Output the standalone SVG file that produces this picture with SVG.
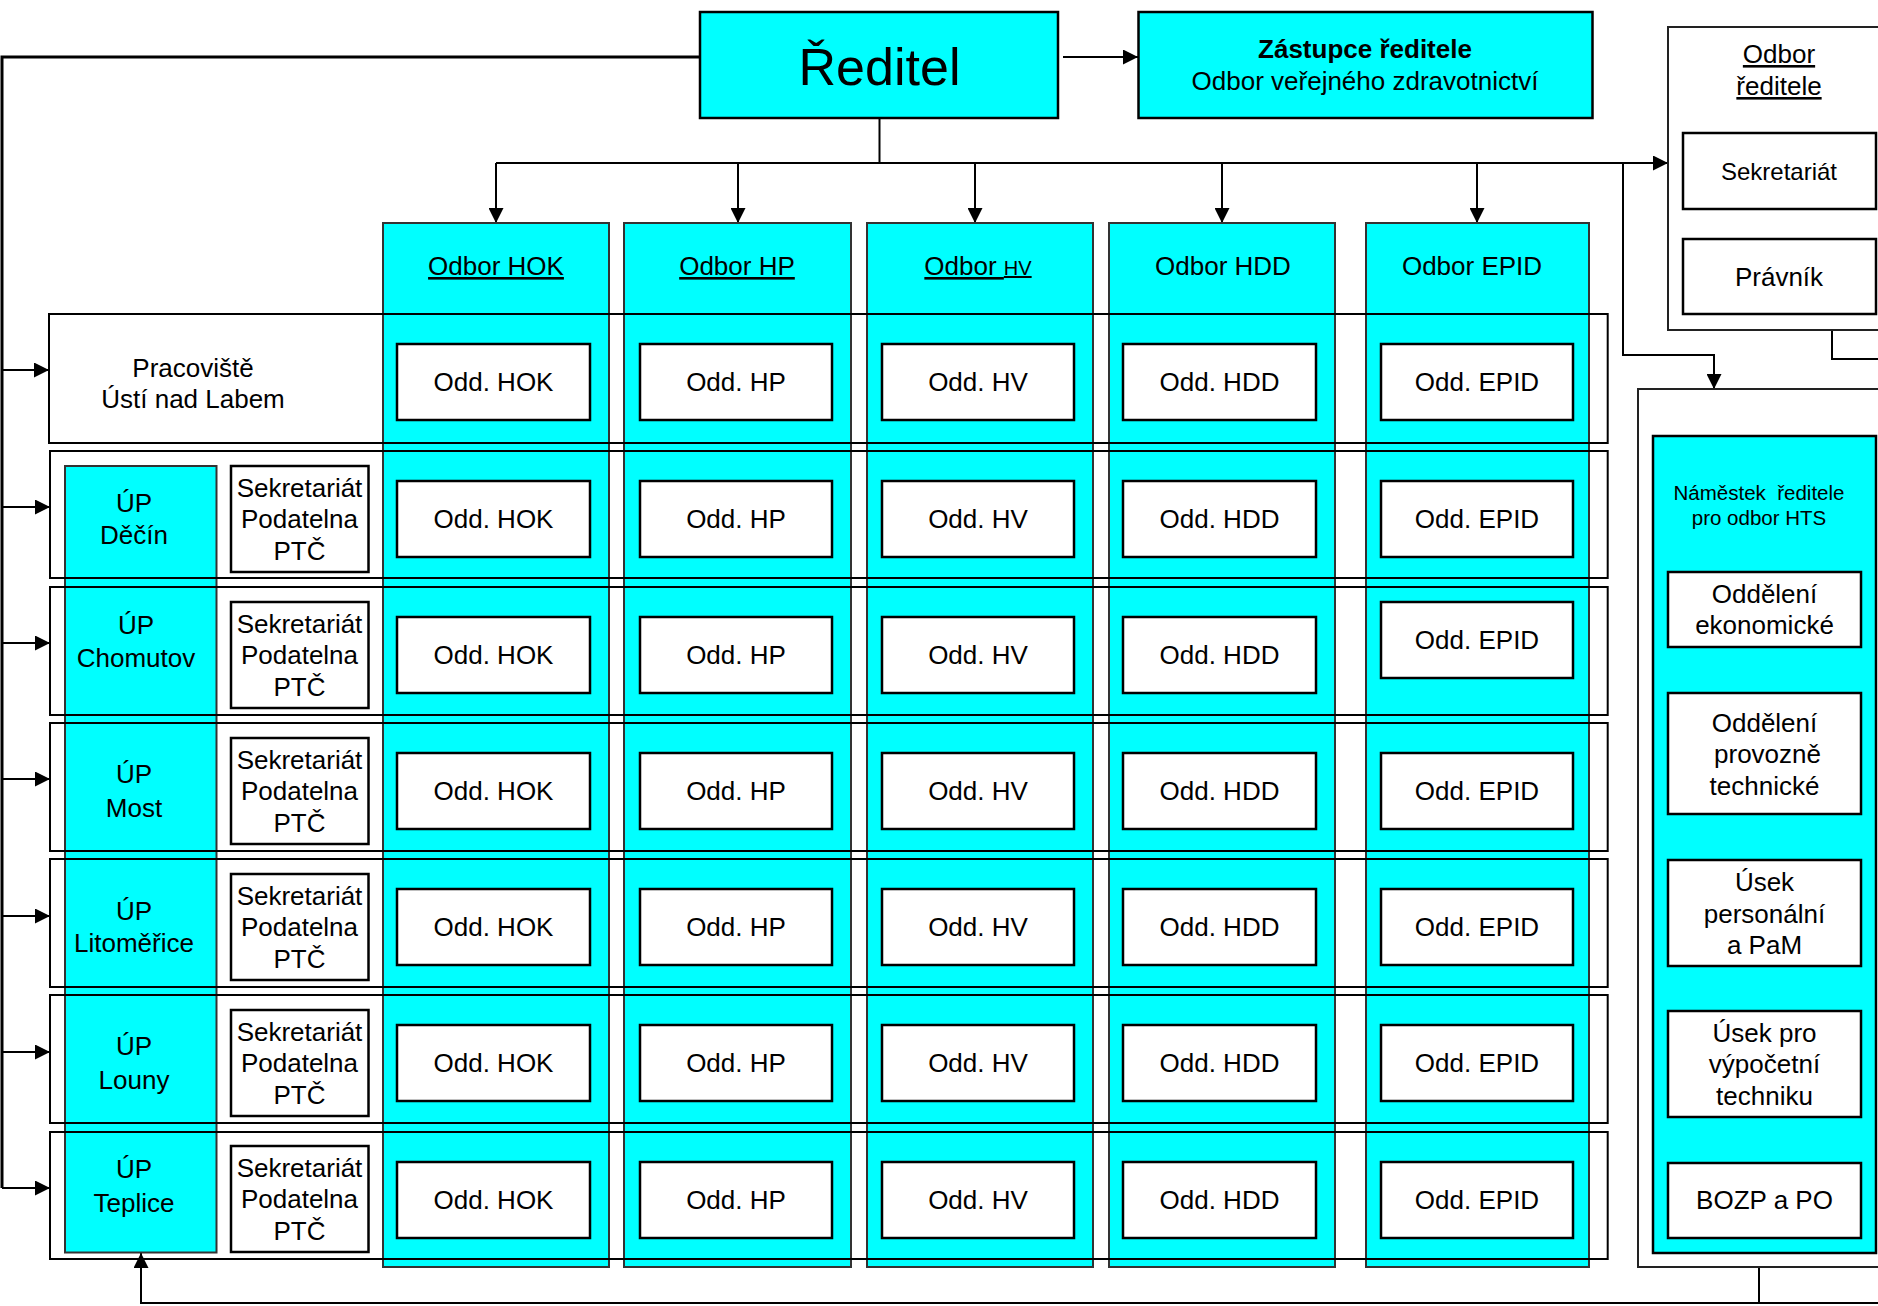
<svg xmlns="http://www.w3.org/2000/svg" width="1878" height="1306" viewBox="0 0 1878 1306">
<style>
text{font-family:"Liberation Sans",Arial,sans-serif;fill:#000;text-anchor:middle}
.t26{font-size:26px}
.cyan{fill:#00FFFF;stroke:#000;stroke-width:2.5}
.col{fill:#00FFFF;stroke:#333;stroke-width:2}
.wbox{fill:#fff;stroke:#000;stroke-width:2.5}
.row{fill:none;stroke:#000;stroke-width:2}
.frame{fill:#fff;stroke:#222;stroke-width:2}
.ln{fill:none;stroke:#000;stroke-width:2}
.lnb{fill:none;stroke:#000;stroke-width:3}
.ul{text-decoration:underline}
</style>
<defs>
<marker id="ah" viewBox="0 0 10 10" refX="10" refY="5" markerWidth="15" markerHeight="15" markerUnits="userSpaceOnUse" orient="auto"><path d="M0,0 L10,5 L0,10 z" fill="#000"/></marker>
</defs>
<rect x="0" y="0" width="1878" height="1306" fill="#fff"/>

<g id="connectors">
<path class="lnb" d="M700,57 H2 V1188"/>
<path class="ln" d="M2,370 H49" marker-end="url(#ah)"/>
<path class="ln" d="M2,507 H50" marker-end="url(#ah)"/>
<path class="ln" d="M2,643 H50" marker-end="url(#ah)"/>
<path class="ln" d="M2,779 H50" marker-end="url(#ah)"/>
<path class="ln" d="M2,916 H50" marker-end="url(#ah)"/>
<path class="ln" d="M2,1052 H50" marker-end="url(#ah)"/>
<path class="ln" d="M2,1188 H50" marker-end="url(#ah)"/>
<path class="ln" d="M1063,57 H1138" marker-end="url(#ah)"/>
<path class="ln" d="M879.5,118 V163"/>
<path class="ln" d="M496,163 H1668" marker-end="url(#ah)"/>
<path class="ln" d="M496,163 V223" marker-end="url(#ah)"/>
<path class="ln" d="M738,163 V223" marker-end="url(#ah)"/>
<path class="ln" d="M975,163 V223" marker-end="url(#ah)"/>
<path class="ln" d="M1222,163 V223" marker-end="url(#ah)"/>
<path class="ln" d="M1477,163 V223" marker-end="url(#ah)"/>
<path class="ln" d="M1623,163 V355 H1714 V389" marker-end="url(#ah)"/>
<path class="ln" d="M1832,330 V359 H1878"/>
<path class="ln" d="M1759,1253 V1303 H141 V1253" marker-end="url(#ah)"/>
<path class="ln" d="M1759,1303 H1878"/>
</g>

<g id="reditel">
<rect class="cyan" x="700" y="12" width="358" height="106"/>
<text x="879.5" y="85" style="font-size:52px">Ředitel</text>
</g>

<g id="zastupce">
<rect class="cyan" x="1138.5" y="12" width="454" height="106"/>
<text x="1365" y="58" class="t26" font-weight="bold">Zástupce ředitele</text>
<text x="1365" y="90" class="t26">Odbor veřejného zdravotnictví</text>
</g>

<g id="odbor-reditele">
<rect class="frame" x="1668" y="27" width="260" height="303"/>
<text x="1779" y="63" class="t26 ul">Odbor</text>
<text x="1779" y="95" class="t26 ul">ředitele</text>
<rect class="wbox" x="1683" y="133" width="193" height="76" stroke-width="2"/>
<text x="1779" y="180" style="font-size:24px">Sekretariát</text>
<rect class="wbox" x="1683" y="239" width="193" height="75" stroke-width="2"/>
<text x="1779" y="286" class="t26">Právník</text>
</g>

<g id="hts">
<rect class="frame" x="1638" y="389" width="290" height="878"/>
<rect class="cyan" x="1653" y="436" width="223" height="817" stroke-width="2"/>
<text x="1759" y="500" style="font-size:20.5px" xml:space="preserve">Náměstek  ředitele</text>
<text x="1759" y="525" style="font-size:20.5px">pro odbor HTS</text>
<rect class="wbox" x="1668" y="572" width="193" height="75" stroke-width="2"/>
<text x="1764.5" y="603" class="t26">Oddělení</text>
<text x="1764.5" y="634" class="t26">ekonomické</text>
<rect class="wbox" x="1668" y="693" width="193" height="121" stroke-width="2"/>
<text x="1764.5" y="732" class="t26">Oddělení</text>
<text x="1767.5" y="763" class="t26">provozně</text>
<text x="1764.5" y="795" class="t26">technické</text>
<rect class="wbox" x="1668" y="860" width="193" height="106" stroke-width="2"/>
<text x="1764.5" y="891" class="t26">Úsek</text>
<text x="1764.5" y="923" class="t26">personální</text>
<text x="1764.5" y="954" class="t26">a PaM</text>
<rect class="wbox" x="1668" y="1011" width="193" height="106" stroke-width="2"/>
<text x="1764.5" y="1042" class="t26">Úsek pro</text>
<text x="1764.5" y="1073" class="t26">výpočetní</text>
<text x="1764.5" y="1105" class="t26">techniku</text>
<rect class="wbox" x="1668" y="1163" width="193" height="75" stroke-width="2"/>
<text x="1764.5" y="1209" class="t26">BOZP a PO</text>
</g>

<g id="odbor-hok">
<rect class="col" x="383" y="223" width="226" height="1044"/>
<text x="496" y="275" class="t26 ul">Odbor HOK</text>
</g>
<g id="odbor-hp">
<rect class="col" x="624" y="223" width="227" height="1044"/>
<text x="737" y="275" class="t26 ul">Odbor HP</text>
</g>
<g id="odbor-hv">
<rect class="col" x="867" y="223" width="226" height="1044"/>
<text x="978" y="275" class="t26 ul">Odbor <tspan style="font-size:20px">HV</tspan></text>
</g>
<g id="odbor-hdd">
<rect class="col" x="1109" y="223" width="226" height="1044"/>
<text x="1223" y="275" class="t26">Odbor HDD</text>
</g>
<g id="odbor-epid">
<rect class="col" x="1366" y="223" width="223" height="1044"/>
<text x="1472" y="275" class="t26">Odbor EPID</text>
</g>

<g id="up-column">
<rect class="col" x="65" y="466" width="151.5" height="786.5"/>
</g>

<g id="row-usti">
<rect class="row" x="49" y="314" width="1558.7" height="129"/>
<text x="193" y="377" class="t26">Pracoviště</text>
<text x="193" y="408" class="t26">Ústí nad Labem</text>
</g>

<g id="row-decin">
<rect class="row" x="50" y="451" width="1557.7" height="127"/>
<text x="134" y="512" class="t26">ÚP</text>
<text x="134" y="544" class="t26">Děčín</text>
<rect class="wbox" x="231" y="466" width="137.5" height="106" stroke-width="2"/>
<text x="299.5" y="496.5" class="t26">Sekretariát</text>
<text x="299.5" y="528" class="t26">Podatelna</text>
<text x="299.5" y="559.5" class="t26">PTČ</text>
</g>

<g id="row-chomutov">
<rect class="row" x="50" y="587" width="1557.7" height="128"/>
<text x="136" y="634" class="t26">ÚP</text>
<text x="136" y="667" class="t26">Chomutov</text>
<rect class="wbox" x="231" y="602" width="137.5" height="106" stroke-width="2"/>
<text x="299.5" y="632.5" class="t26">Sekretariát</text>
<text x="299.5" y="664" class="t26">Podatelna</text>
<text x="299.5" y="695.5" class="t26">PTČ</text>
</g>

<g id="row-most">
<rect class="row" x="50" y="723" width="1557.7" height="128"/>
<text x="134" y="783" class="t26">ÚP</text>
<text x="134" y="817" class="t26">Most</text>
<rect class="wbox" x="231" y="738" width="137.5" height="106" stroke-width="2"/>
<text x="299.5" y="768.5" class="t26">Sekretariát</text>
<text x="299.5" y="800" class="t26">Podatelna</text>
<text x="299.5" y="831.5" class="t26">PTČ</text>
</g>

<g id="row-litomerice">
<rect class="row" x="50" y="859" width="1557.7" height="128"/>
<text x="134" y="920" class="t26">ÚP</text>
<text x="134" y="952" class="t26">Litoměřice</text>
<rect class="wbox" x="231" y="874" width="137.5" height="106" stroke-width="2"/>
<text x="299.5" y="904.5" class="t26">Sekretariát</text>
<text x="299.5" y="936" class="t26">Podatelna</text>
<text x="299.5" y="967.5" class="t26">PTČ</text>
</g>

<g id="row-louny">
<rect class="row" x="50" y="995" width="1557.7" height="128"/>
<text x="134" y="1055" class="t26">ÚP</text>
<text x="134" y="1089" class="t26">Louny</text>
<rect class="wbox" x="231" y="1010" width="137.5" height="106" stroke-width="2"/>
<text x="299.5" y="1040.5" class="t26">Sekretariát</text>
<text x="299.5" y="1072" class="t26">Podatelna</text>
<text x="299.5" y="1103.5" class="t26">PTČ</text>
</g>

<g id="row-teplice">
<rect class="row" x="50" y="1132" width="1557.7" height="127"/>
<text x="134" y="1178" class="t26">ÚP</text>
<text x="134" y="1212" class="t26">Teplice</text>
<rect class="wbox" x="231" y="1146" width="137.5" height="106" stroke-width="2"/>
<text x="299.5" y="1176.5" class="t26">Sekretariát</text>
<text x="299.5" y="1208" class="t26">Podatelna</text>
<text x="299.5" y="1239.5" class="t26">PTČ</text>
</g>

<g id="odd-r1-hok"><rect class="wbox" x="397" y="344" width="193" height="76"/><text x="493.5" y="391" class="t26">Odd. HOK</text></g>
<g id="odd-r1-hp"><rect class="wbox" x="640" y="344" width="192" height="76"/><text x="736" y="391" class="t26">Odd. HP</text></g>
<g id="odd-r1-hv"><rect class="wbox" x="882" y="344" width="192" height="76"/><text x="978" y="391" class="t26">Odd. HV</text></g>
<g id="odd-r1-hdd"><rect class="wbox" x="1123" y="344" width="193" height="76"/><text x="1219.5" y="391" class="t26">Odd. HDD</text></g>
<g id="odd-r1-epid"><rect class="wbox" x="1381" y="344" width="192" height="76"/><text x="1477" y="391" class="t26">Odd. EPID</text></g>

<g id="odd-r2-hok"><rect class="wbox" x="397" y="481" width="193" height="76"/><text x="493.5" y="528" class="t26">Odd. HOK</text></g>
<g id="odd-r2-hp"><rect class="wbox" x="640" y="481" width="192" height="76"/><text x="736" y="528" class="t26">Odd. HP</text></g>
<g id="odd-r2-hv"><rect class="wbox" x="882" y="481" width="192" height="76"/><text x="978" y="528" class="t26">Odd. HV</text></g>
<g id="odd-r2-hdd"><rect class="wbox" x="1123" y="481" width="193" height="76"/><text x="1219.5" y="528" class="t26">Odd. HDD</text></g>
<g id="odd-r2-epid"><rect class="wbox" x="1381" y="481" width="192" height="76"/><text x="1477" y="528" class="t26">Odd. EPID</text></g>

<g id="odd-r3-hok"><rect class="wbox" x="397" y="617" width="193" height="76"/><text x="493.5" y="664" class="t26">Odd. HOK</text></g>
<g id="odd-r3-hp"><rect class="wbox" x="640" y="617" width="192" height="76"/><text x="736" y="664" class="t26">Odd. HP</text></g>
<g id="odd-r3-hv"><rect class="wbox" x="882" y="617" width="192" height="76"/><text x="978" y="664" class="t26">Odd. HV</text></g>
<g id="odd-r3-hdd"><rect class="wbox" x="1123" y="617" width="193" height="76"/><text x="1219.5" y="664" class="t26">Odd. HDD</text></g>
<g id="odd-r3-epid"><rect class="wbox" x="1381" y="602" width="192" height="76"/><text x="1477" y="649" class="t26">Odd. EPID</text></g>

<g id="odd-r4-hok"><rect class="wbox" x="397" y="753" width="193" height="76"/><text x="493.5" y="800" class="t26">Odd. HOK</text></g>
<g id="odd-r4-hp"><rect class="wbox" x="640" y="753" width="192" height="76"/><text x="736" y="800" class="t26">Odd. HP</text></g>
<g id="odd-r4-hv"><rect class="wbox" x="882" y="753" width="192" height="76"/><text x="978" y="800" class="t26">Odd. HV</text></g>
<g id="odd-r4-hdd"><rect class="wbox" x="1123" y="753" width="193" height="76"/><text x="1219.5" y="800" class="t26">Odd. HDD</text></g>
<g id="odd-r4-epid"><rect class="wbox" x="1381" y="753" width="192" height="76"/><text x="1477" y="800" class="t26">Odd. EPID</text></g>

<g id="odd-r5-hok"><rect class="wbox" x="397" y="889" width="193" height="76"/><text x="493.5" y="936" class="t26">Odd. HOK</text></g>
<g id="odd-r5-hp"><rect class="wbox" x="640" y="889" width="192" height="76"/><text x="736" y="936" class="t26">Odd. HP</text></g>
<g id="odd-r5-hv"><rect class="wbox" x="882" y="889" width="192" height="76"/><text x="978" y="936" class="t26">Odd. HV</text></g>
<g id="odd-r5-hdd"><rect class="wbox" x="1123" y="889" width="193" height="76"/><text x="1219.5" y="936" class="t26">Odd. HDD</text></g>
<g id="odd-r5-epid"><rect class="wbox" x="1381" y="889" width="192" height="76"/><text x="1477" y="936" class="t26">Odd. EPID</text></g>

<g id="odd-r6-hok"><rect class="wbox" x="397" y="1025" width="193" height="76"/><text x="493.5" y="1072" class="t26">Odd. HOK</text></g>
<g id="odd-r6-hp"><rect class="wbox" x="640" y="1025" width="192" height="76"/><text x="736" y="1072" class="t26">Odd. HP</text></g>
<g id="odd-r6-hv"><rect class="wbox" x="882" y="1025" width="192" height="76"/><text x="978" y="1072" class="t26">Odd. HV</text></g>
<g id="odd-r6-hdd"><rect class="wbox" x="1123" y="1025" width="193" height="76"/><text x="1219.5" y="1072" class="t26">Odd. HDD</text></g>
<g id="odd-r6-epid"><rect class="wbox" x="1381" y="1025" width="192" height="76"/><text x="1477" y="1072" class="t26">Odd. EPID</text></g>

<g id="odd-r7-hok"><rect class="wbox" x="397" y="1162" width="193" height="76"/><text x="493.5" y="1209" class="t26">Odd. HOK</text></g>
<g id="odd-r7-hp"><rect class="wbox" x="640" y="1162" width="192" height="76"/><text x="736" y="1209" class="t26">Odd. HP</text></g>
<g id="odd-r7-hv"><rect class="wbox" x="882" y="1162" width="192" height="76"/><text x="978" y="1209" class="t26">Odd. HV</text></g>
<g id="odd-r7-hdd"><rect class="wbox" x="1123" y="1162" width="193" height="76"/><text x="1219.5" y="1209" class="t26">Odd. HDD</text></g>
<g id="odd-r7-epid"><rect class="wbox" x="1381" y="1162" width="192" height="76"/><text x="1477" y="1209" class="t26">Odd. EPID</text></g>
</svg>
